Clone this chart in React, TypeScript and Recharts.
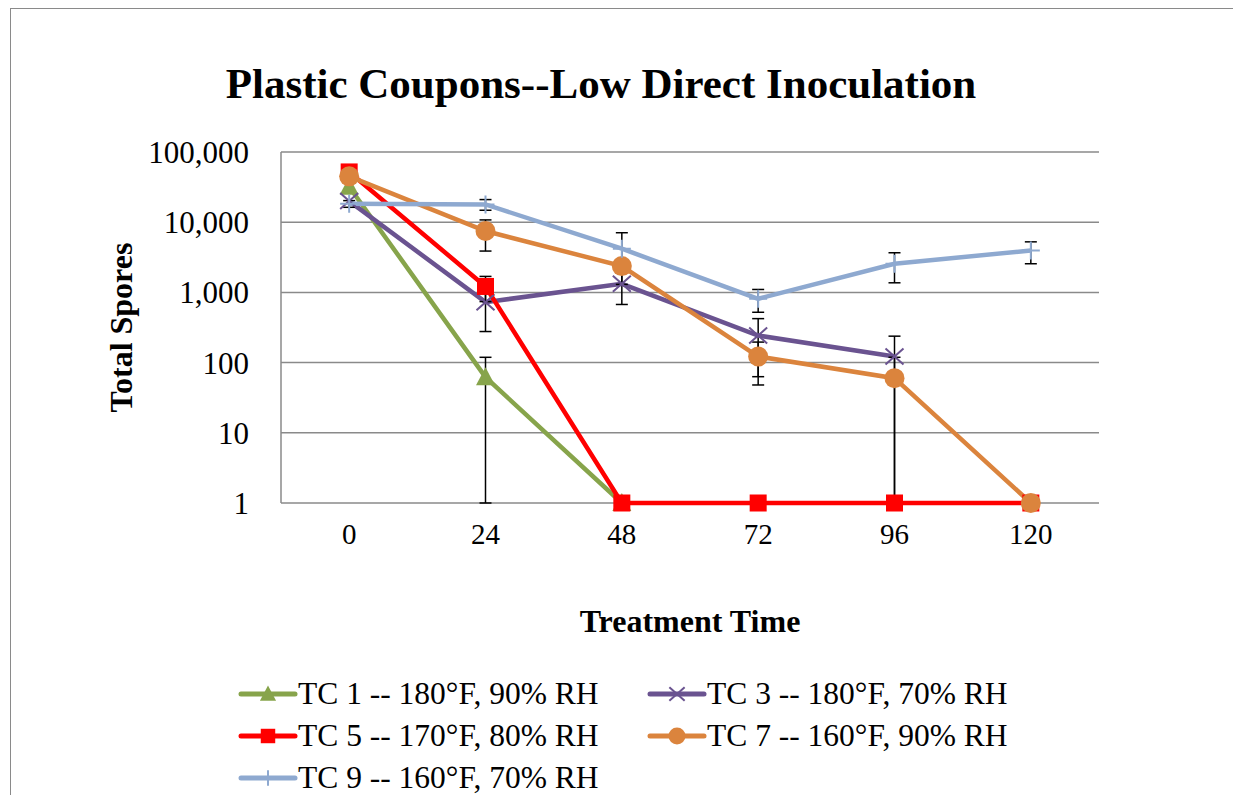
import React from 'react';
import { LineChart, Line, XAxis, YAxis, CartesianGrid, ErrorBar } from 'recharts';

const categories = ['0', '24', '48', '72', '96', '120'];
const yTicks = [1, 10, 100, 1000, 10000, 100000];

const tc1 = [32000, 62, 1, null, null, null];
const tc3 = [20000, 726, 1327, 243, 122, null];
const tc5 = [52000, 1215, 1, 1, 1, 1];
const tc7 = [45000, 7480, 2370, 122, 60, 1];
const tc9 = [18300, 17900, 4190, 811, 2560, 3960];

// [below, above]
const tc1Err = [null, [61, 57], null, null, null, null];
const tc3Err = [null, [449, 449], [654, 654], [180, 180], [121, 116], null];
const tc5Err = [null, [475, 475], null, null, null, null];
const tc7Err = [null, [3600, 3300], null, [74, 74], [59, 59], null];
const tc9Err = [[2000, 2000], [3100, 3100], [2890, 2890], [290, 290], [1190, 1110], [1400, 1290]];

const GREEN = '#87A44B';
const PURPLE = '#6A5390';
const RED = '#FF0000';
const ORANGE = '#DB843D';
const BLUE = '#8EA9D0';

const FONT = '"Liberation Serif", "Times New Roman", serif';

const data = categories.map((c, i) => ({
  time: c,
  tc1: tc1[i], tc1Err: tc1Err[i],
  tc3: tc3[i], tc3Err: tc3Err[i],
  tc5: tc5[i], tc5Err: tc5Err[i],
  tc7: tc7[i], tc7Err: tc7Err[i],
  tc9: tc9[i], tc9Err: tc9Err[i],
}));

type Shape = 'triangle' | 'square' | 'circle' | 'x' | 'plus';

const marker = (shape: Shape, color: string, cx: number, cy: number, k = 1, key?: string) => {
  switch (shape) {
    case 'triangle':
      return <path key={key} d={`M${cx},${cy - 10 * k} L${cx + 9.5 * k},${cy + 8 * k} L${cx - 9.5 * k},${cy + 8 * k} Z`} fill={color} />;
    case 'square':
      return <rect key={key} x={cx - 8.5 * k} y={cy - 8.5 * k} width={17 * k} height={17 * k} fill={color} />;
    case 'circle':
      return <circle key={key} cx={cx} cy={cy} r={10 * k} fill={color} />;
    case 'x':
      return (
        <path
          key={key}
          d={`M${cx - 9 * k},${cy - 8 * k} L${cx + 9 * k},${cy + 8 * k} M${cx + 9 * k},${cy - 8 * k} L${cx - 9 * k},${cy + 8 * k}`}
          stroke={color}
          strokeWidth={2}
        />
      );
    default:
      return <path key={key} d={`M${cx - 9 * k},${cy} L${cx + 9 * k},${cy} M${cx},${cy - 9 * k} L${cx},${cy + 9 * k}`} stroke={color} strokeWidth={2} />;
  }
};

const makeDot = (shape: Shape, color: string) => (props: any) => {
  const { cx, cy, index, value } = props;
  if (value == null || cx == null || cy == null) return <g key={`e-${shape}-${index}`} />;
  return marker(shape, color, cx, cy, 1, `${shape}-${index}`);
};

const series: { key: string; name: string; color: string; shape: Shape }[] = [
  { key: 'tc1', name: 'TC 1 -- 180°F, 90% RH', color: GREEN, shape: 'triangle' },
  { key: 'tc3', name: 'TC 3 -- 180°F, 70% RH', color: PURPLE, shape: 'x' },
  { key: 'tc5', name: 'TC 5 -- 170°F, 80% RH', color: RED, shape: 'square' },
  { key: 'tc7', name: 'TC 7 -- 160°F, 90% RH', color: ORANGE, shape: 'circle' },
  { key: 'tc9', name: 'TC 9 -- 160°F, 70% RH', color: BLUE, shape: 'plus' },
];

const LegendItem: React.FC<{ s: (typeof series)[number] }> = ({ s }) => (
  <div style={{ display: 'flex', alignItems: 'center', height: 42 }}>
    <svg width={60} height={24} style={{ display: 'block' }}>
      <line x1={3} y1={12} x2={57} y2={12} stroke={s.color} strokeWidth={5} strokeLinecap="round" />
      {marker(s.shape, s.color, 30, 12, 0.85)}
    </svg>
    <span style={{ fontFamily: FONT, fontSize: 31.5, color: '#000', whiteSpace: 'nowrap' }}>{s.name}</span>
  </div>
);

export default function App() {
  return (
    <div style={{ position: 'absolute', left: 10, top: 8, width: 1222, height: 800, border: '1px solid #8a8a8a', background: '#fff' }}>
      <div style={{ position: 'absolute', left: 0, top: 50, width: 1180, textAlign: 'center', fontFamily: FONT, fontWeight: 700, fontSize: 43, color: '#000' }}>
        Plastic Coupons--Low Direct Inoculation
      </div>
      <div style={{ position: 'absolute', left: 0, top: 0 }}>
        <LineChart width={1222} height={787} data={data} margin={{ top: 143, right: 134, bottom: 233, left: 0 }}>
          <CartesianGrid horizontal vertical={false} stroke="#8a8a8a" strokeWidth={1.5} />
          <XAxis
            dataKey="time"
            scale="band"
            height={60}
            axisLine={false}
            tickLine={false}
            tickMargin={14}
            tick={{ fontFamily: FONT, fontSize: 29, fill: '#000' }}
            label={{ value: 'Treatment Time', position: 'bottom', offset: 46, style: { fontFamily: FONT, fontSize: 32, fontWeight: 700, fill: '#000' } }}
          />
          <YAxis
            scale="log"
            domain={[1, 100000]}
            ticks={yTicks}
            width={270}
            axisLine={{ stroke: '#8a8a8a', strokeWidth: 1.5 }}
            tickLine={false}
            tickMargin={26}
            tickFormatter={(v: number) => v.toLocaleString('en-US')}
            tick={{ fontFamily: FONT, fontSize: 31, fill: '#000' }}
            label={{ value: 'Total Spores', angle: -90, position: 'insideLeft', offset: 110, textAnchor: 'middle', style: { fontFamily: FONT, fontSize: 32, fontWeight: 700, fill: '#000', textAnchor: 'middle' } }}
          />
          {series.map((s) => (
            <Line
              key={s.key}
              type="linear"
              dataKey={s.key}
              stroke={s.color}
              strokeWidth={4.5}
              dot={makeDot(s.shape, s.color)}
              activeDot={false}
              connectNulls={false}
              isAnimationActive={false}
            >
              <ErrorBar dataKey={`${s.key}Err`} direction="y" width={6} stroke="#000" strokeWidth={1.5} />
            </Line>
          ))}
        </LineChart>
      </div>
      <div style={{ position: 'absolute', left: 227, top: 664, display: 'grid', gridTemplateColumns: '409px 409px' }}>
        {series.map((s) => (
          <LegendItem key={s.key} s={s} />
        ))}
      </div>
    </div>
  );
}
